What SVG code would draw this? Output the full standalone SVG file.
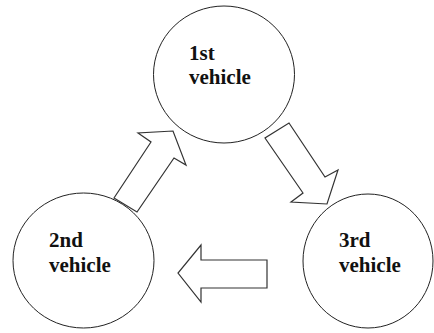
<svg xmlns="http://www.w3.org/2000/svg" width="434" height="333" viewBox="0 0 434 333">
  <style>
    .node { fill: #ffffff; stroke: #222222; stroke-width: 1; }
    .label { font-family: "Liberation Serif", "Times New Roman", serif; font-weight: bold; font-size: 21px; fill: #111111; }
    .arrow { fill: #ffffff; stroke: #333333; stroke-width: 1.2; stroke-linejoin: miter; }
  </style>
  <rect width="434" height="333" fill="#ffffff"/>

  <g id="connectors">
    <!-- 2nd vehicle to 1st vehicle -->
    <polygon class="arrow" points="114,198 137,212 174,158 186,165 173,131 138,133 151,142"/>
    <!-- 1st vehicle to 3rd vehicle -->
    <polygon class="arrow" points="289,123 325,177 338,170 327,204 291,202 303,193 265,138"/>
    <!-- 3rd vehicle to 2nd vehicle -->
    <polygon class="arrow" points="267,260 201,260 201,245 178,273 201,302 201,288 267,288"/>
  </g>

  <g id="vehicle-1">
    <ellipse class="node" cx="224" cy="74.5" rx="70.5" ry="68.5"/>
    <text class="label" x="189" y="60">1st</text>
    <text class="label" x="189" y="84">vehicle</text>
  </g>

  <g id="vehicle-2">
    <ellipse class="node" cx="83.5" cy="260.5" rx="70.5" ry="67.5"/>
    <text class="label" x="49" y="247">2nd</text>
    <text class="label" x="49" y="272">vehicle</text>
  </g>

  <g id="vehicle-3">
    <ellipse class="node" cx="368" cy="261" rx="65" ry="67"/>
    <text class="label" x="339" y="247">3rd</text>
    <text class="label" x="339" y="272">vehicle</text>
  </g>
</svg>
